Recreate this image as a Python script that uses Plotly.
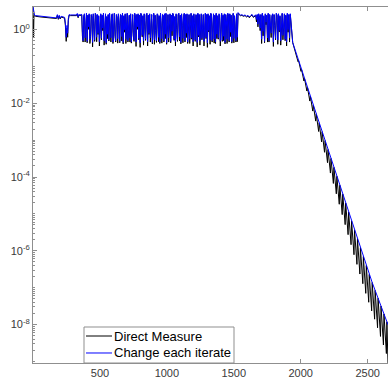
import numpy as np
import plotly.graph_objects as go

# ---------------- data ----------------
# start phase
start_iters = [0, 4, 7, 12, 20, 60, 100, 140, 175, 182, 189, 196, 203, 210, 225,
               236, 242, 248, 254, 259, 264, 270, 280, 300, 325, 331, 337, 343, 350, 358]
start_blue = [4.1, 3.0, 2.5, 2.45, 2.4, 2.3, 2.2, 2.12, 2.08, 2.55, 2.0, 2.45, 2.05, 2.3, 2.2,
              2.15, 1.5, 0.62, 1.3, 0.8, 2.0, 2.55, 2.5, 2.5, 2.5, 2.75, 2.2, 2.6, 2.5, 2.55]
start_black = [4.1, 0.62, 2.4, 2.35, 2.3, 2.2, 2.1, 2.03, 2.0, 2.45, 1.9, 2.35, 1.95, 2.2, 2.1,
               2.05, 1.3, 0.48, 1.1, 0.62, 1.8, 2.45, 2.4, 2.4, 2.4, 2.65, 2.1, 2.5, 2.4, 2.45]

# first oscillating phase (iterations ~364 .. 1526)
noise1_span = [364, 1526]
noise1_blue = [
    2.6, 0.9, 0.5, 2.4, 2.7, 0.6, 1.6, 2.8, 0.48, 2.5,
    1.2, 2.7, 0.55, 0.7, 2.6, 2.3, 0.45, 2.7, 1.4, 0.52,
    2.8, 2.5, 0.62, 2.6, 0.8, 2.4, 0.47, 1.9, 2.7, 0.58,
    2.5, 1.1, 2.8, 0.5, 2.6, 2.7, 0.44, 2.3, 0.75, 2.6,
    0.53, 2.8, 1.3, 0.6, 2.5, 2.7, 0.46, 2.4, 2.8, 0.85,
    0.5, 2.6, 2.2, 0.57, 2.7, 1.5, 0.48, 2.6, 2.5, 0.65,
    2.8, 0.45, 2.4, 1.0, 2.7, 0.55, 2.6, 2.8, 0.5, 1.7,
    2.5, 0.6, 2.7, 0.47, 2.4, 2.6, 0.9, 0.52, 2.8, 2.3,
    0.46, 2.6, 1.2, 2.7, 0.58, 2.5, 0.44, 2.8, 2.6, 0.7,
    2.4, 0.5, 2.7, 1.4, 0.55, 2.6, 2.8, 0.47, 2.5, 0.8,
    2.7, 0.6, 2.3, 2.6, 0.45, 1.8, 2.8, 0.53, 2.5, 1.1,
    0.49, 2.7, 2.6, 0.62, 2.4, 0.46, 2.8, 1.3, 0.57, 2.6,
    2.5, 0.5, 2.7, 0.75, 2.8, 0.44, 2.4, 2.6, 0.6, 1.6,
    2.7, 0.48, 2.5, 0.9, 2.8, 2.6, 0.55, 2.3, 0.47, 2.7,
    1.2, 0.52, 2.6, 2.8, 0.64, 2.5, 0.45, 2.7, 1.5, 0.58,
    2.4, 2.8, 0.5, 2.6, 0.8, 2.7, 0.46, 2.5, 2.6, 0.55,
    1.0, 2.8, 0.6, 2.4, 0.47, 2.7, 1.7, 0.52, 2.6, 2.5,
    0.45, 2.8, 0.7, 2.6, 0.5, 2.3, 2.7, 0.58, 1.3, 2.6,
    0.48, 2.5, 2.8, 0.62, 2.6, 0.44, 2.7, 0.95, 2.4, 0.53,
    2.8, 2.6, 0.5, 1.5, 2.7, 0.56, 2.5, 0.46, 2.8, 0.75,
    2.4, 0.6, 2.7, 2.6, 0.48, 1.1, 2.8, 0.52, 2.5, 0.66,
    2.7, 0.45, 2.6, 1.8, 0.55, 2.8, 2.4, 0.5, 2.7, 0.85,
    2.5, 0.47, 2.6, 2.8, 0.58, 2.4, 1.2, 0.5, 2.7, 0.62]
noise1_black = [
    2.5, 0.68, 0.46, 2.3, 2.6, 0.46, 1.36, 2.7, 0.44, 2.4,
    1.02, 2.6, 0.42, 0.64, 2.5, 2.2, 0.34, 2.6, 1.19, 0.48,
    2.7, 2.4, 0.47, 2.5, 0.74, 2.3, 0.36, 1.62, 2.6, 0.53,
    2.4, 0.94, 2.7, 0.38, 2.5, 2.6, 0.40, 2.2, 0.57, 2.5,
    0.49, 2.7, 1.11, 0.46, 2.4, 2.6, 0.42, 2.3, 2.7, 0.65,
    0.46, 2.5, 2.1, 0.43, 2.6, 1.28, 0.44, 2.5, 2.4, 0.49,
    2.7, 0.41, 2.3, 0.85, 2.6, 0.42, 2.5, 2.7, 0.46, 1.45,
    2.4, 0.46, 2.6, 0.43, 2.3, 2.5, 0.68, 0.48, 2.7, 2.2,
    0.35, 2.5, 1.02, 2.6, 0.53, 2.4, 0.33, 2.7, 2.5, 0.64,
    2.3, 0.38, 2.6, 1.19, 0.51, 2.5, 2.7, 0.36, 2.4, 0.74,
    2.6, 0.46, 2.2, 2.5, 0.41, 1.53, 2.7, 0.40, 2.4, 0.94,
    0.45, 2.6, 2.5, 0.47, 2.3, 0.42, 2.7, 1.11, 0.43, 2.5,
    2.4, 0.46, 2.6, 0.57, 2.7, 0.40, 2.3, 2.5, 0.46, 1.36,
    2.6, 0.44, 2.4, 0.68, 2.7, 2.5, 0.51, 2.2, 0.36, 2.6,
    1.02, 0.48, 2.5, 2.7, 0.49, 2.4, 0.41, 2.6, 1.28, 0.44,
    2.3, 2.7, 0.46, 2.5, 0.61, 2.6, 0.42, 2.4, 2.5, 0.42,
    0.85, 2.7, 0.55, 2.3, 0.36, 2.6, 1.45, 0.48, 2.5, 2.4,
    0.34, 2.7, 0.64, 2.5, 0.38, 2.2, 2.6, 0.53, 1.11, 2.5,
    0.36, 2.4, 2.7, 0.57, 2.5, 0.33, 2.6, 0.87, 2.3, 0.40,
    2.7, 2.5, 0.46, 1.28, 2.6, 0.43, 2.4, 0.42, 2.7, 0.57,
    2.3, 0.55, 2.6, 2.5, 0.36, 0.94, 2.7, 0.48, 2.4, 0.50,
    2.6, 0.41, 2.5, 1.53, 0.42, 2.7, 2.3, 0.46, 2.6, 0.65,
    2.4, 0.43, 2.5, 2.7, 0.44, 2.3, 1.02, 0.46, 2.6, 0.47]

# calm phase
flat_iters = [1532, 1540, 1550, 1560, 1572, 1584, 1596, 1606, 1616, 1626, 1636, 1646, 1656]
flat_blue = [2.9, 2.7, 2.45, 2.55, 2.4, 2.5, 2.3, 2.45, 2.2, 2.4, 2.6, 2.25, 2.45]
flat_black = [2.8, 2.6, 2.35, 2.45, 2.3, 2.4, 2.2, 2.35, 2.1, 2.3, 2.5, 2.15, 2.35]

# second oscillating phase (iterations ~1664 .. 1922)
noise2_span = [1664, 1922]
noise2_blue = [
    2.5, 1.9, 2.6, 1.4, 2.7, 2.3, 1.1, 2.6, 0.55, 2.8,
    0.9, 2.4, 0.48, 2.7, 1.6, 2.5, 0.6, 2.8, 0.5, 2.6,
    1.2, 0.8, 2.4, 2.7, 0.46, 2.6, 1.5, 0.58, 2.8, 2.5,
    0.52, 2.7, 0.95, 2.4, 0.5, 2.6, 2.8, 0.7, 1.3, 2.7,
    0.55, 2.5, 0.47, 2.8, 1.0, 2.6, 0.6, 2.7]
noise2_black = [
    2.4, 1.62, 2.5, 1.19, 2.6, 2.2, 0.94, 2.5, 0.42, 2.7,
    0.68, 2.3, 0.44, 2.6, 1.36, 2.4, 0.46, 2.7, 0.46, 2.5,
    1.02, 0.61, 2.3, 2.6, 0.35, 2.5, 1.28, 0.53, 2.7, 2.4,
    0.40, 2.6, 0.87, 2.3, 0.38, 2.5, 2.7, 0.53, 1.11, 2.6,
    0.50, 2.4, 0.36, 2.7, 0.85, 2.5, 0.46, 2.6]

# convergence phase
decay_iters = list(np.arange(1940, 2645, 22)) + [2652]
decay_blue = [0.447, 0.256, 0.1466, 0.0839, 0.0481, 0.02754, 0.01578, 0.009036, 0.005176, 0.002965,
              0.001698, 9.73e-4, 5.57e-4, 3.19e-4, 1.828e-4, 1.047e-4, 6.00e-5, 3.44e-5, 1.968e-5,
              1.127e-5, 6.46e-6, 3.70e-6, 2.12e-6, 1.213e-6, 6.95e-7, 3.98e-7, 2.28e-7, 1.374e-7,
              8.41e-8, 5.14e-8, 3.15e-8, 1.928e-8, 1.178e-8, 9.86e-9]
decay_black_iters = [1940, 1958, 1962, 1980, 1984, 2002, 2006, 2024, 2028, 2046, 2050, 2068, 2072, 2090,
                     2094, 2112, 2116, 2134, 2138, 2156, 2160, 2178, 2182, 2200, 2204, 2222, 2226, 2244,
                     2248, 2266, 2270, 2288, 2292, 2310, 2314, 2332, 2336, 2354, 2358, 2376, 2380, 2398,
                     2402, 2420, 2424, 2442, 2446, 2464, 2468, 2486, 2490, 2508, 2512, 2530, 2534, 2552,
                     2556, 2574, 2578, 2596, 2600, 2618, 2622, 2640, 2644, 2652]
decay_black = [0.447, 0.252, 0.256, 0.1349, 0.1466, 0.0738, 0.0839, 0.0404, 0.0481, 0.02158,
               0.02754, 0.01153, 0.01578, 0.006166, 0.009036, 0.003296, 0.005176, 0.001722,
               0.002965, 8.99e-4, 0.001698, 4.70e-4, 9.73e-4, 2.455e-4, 5.57e-4, 1.282e-4,
               3.19e-4, 6.70e-5, 1.828e-4, 3.50e-5, 1.047e-4, 1.828e-5, 6.00e-5, 9.55e-6,
               3.44e-5, 5.11e-6, 1.968e-5, 2.73e-6, 1.127e-5, 1.459e-6, 6.46e-6, 7.80e-7,
               3.70e-6, 4.27e-7, 2.12e-6, 2.333e-7, 1.213e-6, 1.276e-7, 6.95e-7, 6.98e-8,
               3.98e-7, 4.00e-8, 2.28e-7, 2.333e-8, 1.374e-7, 1.390e-8, 8.41e-8, 8.13e-9,
               5.14e-8, 4.74e-9, 3.15e-8, 2.77e-9, 1.928e-8, 1.622e-9, 1.178e-8, 9.0e-10]

series_names = ["Direct Measure", "Change each iterate"]
series_colors = ["#000000", "#0000ff"]
x_ticks = [500, 1000, 1500, 2000, 2500]
y_tick_exponents = [0, -2, -4, -6, -8]

# ---------------- assemble ----------------
n1b = np.linspace(noise1_span[0], noise1_span[1], len(noise1_blue))
n1k = np.linspace(noise1_span[0], noise1_span[1], len(noise1_black))
n2b = np.linspace(noise2_span[0], noise2_span[1], len(noise2_blue))
n2k = np.linspace(noise2_span[0], noise2_span[1], len(noise2_black))

blue_x = np.concatenate([start_iters, n1b, flat_iters, n2b, decay_iters])
blue_y = np.concatenate([start_blue, noise1_blue, flat_blue, noise2_blue, decay_blue])
black_x = np.concatenate([start_iters, n1k, flat_iters, n2k, decay_black_iters])
black_y = np.concatenate([start_black, noise1_black, flat_black, noise2_black, decay_black])

FONT = "Liberation Sans, Arial, Helvetica, sans-serif"
AX = "#8f8f8f"
TXT = "#3a3a3a"

# the original axes box is a little wider than the 388 px picture (right edge cut off)
FIG_W, FIG_H = 390, 383
PLOT_W = FIG_W - 33

fig = go.Figure()
fig.add_trace(go.Scatter(x=black_x, y=black_y, mode="lines", name=series_names[0],
                         line=dict(color=series_colors[0], width=1), hoverinfo="skip",
                         showlegend=False))
fig.add_trace(go.Scatter(x=blue_x, y=blue_y, mode="lines", name=series_names[1],
                         line=dict(color=series_colors[1], width=1), hoverinfo="skip",
                         showlegend=False))

major_vals = [10.0 ** d for d in y_tick_exponents]
major_text = ["10<sup>%d</sup>" % d for d in y_tick_exponents]
minor_vals = [m * 10.0 ** d for d in range(-10, 1) for m in range(1, 10)
              if not (m == 1 and d in y_tick_exponents)]

yrange = [-9.046, 0.614]
xmax = 2667

# legend drawn as box + sample lines + text (MATLAB-like compact legend)
def px(p):
    return (p - 33) / float(PLOT_W)

L_x0, L_x1, L_y0, L_y1 = px(84), px(234), 0.0, 0.1011
row_y = [0.0758, 0.0281]
line_x = [px(86), px(112)]
text_x = px(112.5)
shapes = [dict(type="rect", xref="paper", yref="paper", x0=L_x0, x1=L_x1, y0=L_y0, y1=L_y1,
               line=dict(color=AX, width=1), fillcolor="white", layer="above")]
# short inward tick marks on the right-hand edge (box on)
for d in y_tick_exponents:
    shapes.append(dict(type="line", xref="paper", yref="y", x0=1 - 4.0 / PLOT_W, x1=1.0,
                       y0=d, y1=d, line=dict(color=AX, width=1), layer="above"))
annotations = []
for name, col, ry in zip(series_names, series_colors, row_y):
    shapes.append(dict(type="line", xref="paper", yref="paper", x0=line_x[0], x1=line_x[1],
                       y0=ry, y1=ry, line=dict(color=col, width=1), layer="above"))
    annotations.append(dict(text=name, xref="paper", yref="paper", x=text_x, y=ry,
                            xanchor="left", yanchor="middle", showarrow=False,
                            font=dict(family=FONT, size=13, color="#000000"),
                            borderpad=0))

fig.update_layout(
    template="none",
    width=FIG_W, height=FIG_H,
    margin=dict(l=33, r=0, t=7, b=20),
    paper_bgcolor="white", plot_bgcolor="white",
    font=dict(family=FONT, size=11, color=TXT),
    showlegend=False,
    shapes=shapes, annotations=annotations,
    xaxis=dict(range=[0, xmax], tickvals=x_ticks, ticks="inside", ticklen=4,
               tickcolor=AX, showline=True, linecolor=AX, linewidth=1, mirror="ticks",
               showgrid=False, zeroline=False, tickfont=dict(family=FONT, size=11, color=TXT)),
    yaxis=dict(type="log", range=yrange, tickvals=major_vals, ticktext=major_text,
               ticks="inside", ticklen=4, tickcolor=AX, showline=True, linecolor=AX,
               linewidth=1, mirror=False, showgrid=False, zeroline=False,
               tickfont=dict(family=FONT, size=11, color=TXT),
               minor=dict(tickvals=minor_vals, ticks="inside", ticklen=2, tickcolor=AX,
                          showgrid=False)),
)

fig.write_html("out.html", config={"displayModeBar": False},
               post_script="document.body.style.margin='0px';"
                           "document.body.style.overflow='hidden';"
                           "document.documentElement.style.overflow='hidden';")
